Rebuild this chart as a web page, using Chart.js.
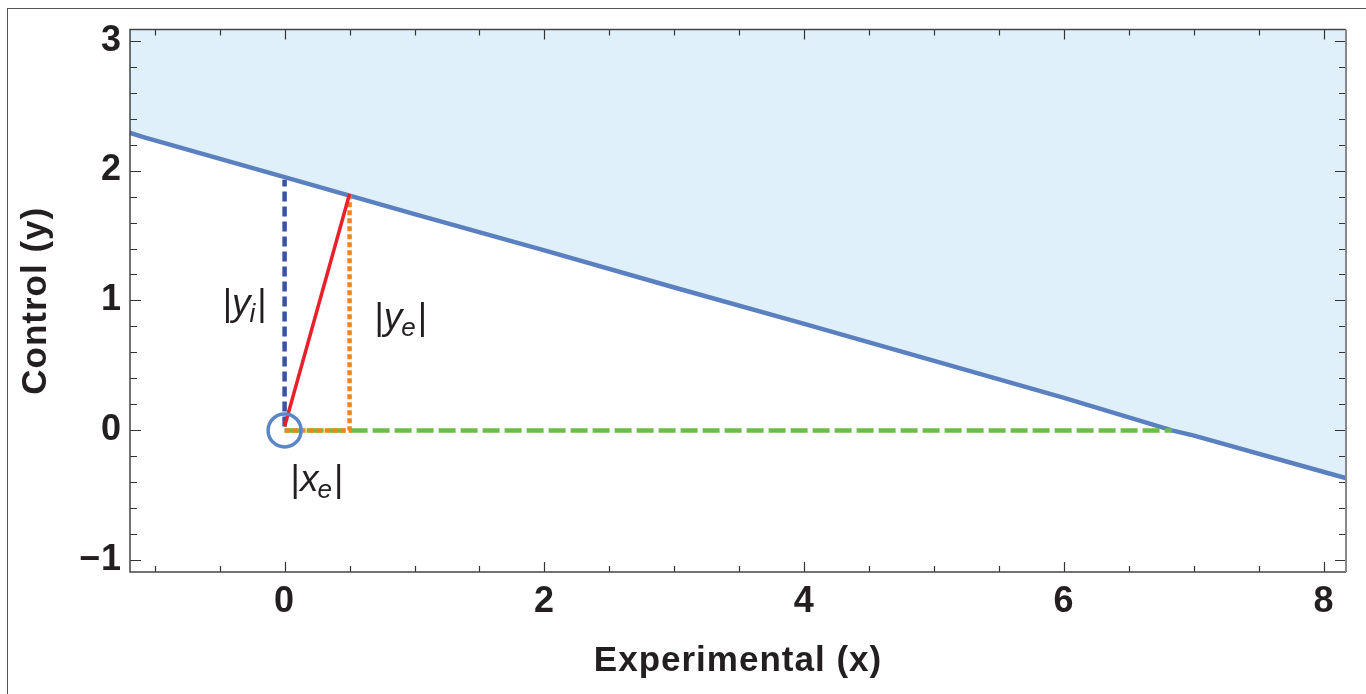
<!DOCTYPE html>
<html><head><meta charset="utf-8">
<script src="https://cdn.jsdelivr.net/npm/chart.js@4/dist/chart.umd.min.js"></script>
<style>
html,body{margin:0;padding:0;background:#fff;overflow:hidden}
#frame{position:absolute;left:7px;top:8px;width:1400px;height:720px;border-left:1.5px solid #555;border-top:1.5px solid #555;pointer-events:none}
#c{position:absolute;left:0;top:0}
</style></head><body>
<canvas id="c" width="1366" height="694"></canvas>
<div id="frame"></div>
<script>
// ---- data ----
const boundaryX = [-1.25, -1.08, 0, 1, 2, 3, 4, 5, 6, 6.83, 7, 8, 8.25];
const boundaryY = [2.31, 2.255, 1.95, 1.665, 1.385, 1.10, 0.82, 0.535, 0.25, 0.0, -0.04, -0.32, -0.39];
const yiX = [0, 0];        const yiY = [0.03, 1.93];     // |y_i| blue dashed
const yeX = [0, 0.5, 0.5]; const yeY = [0, 0, 1.81];     // |y_e| orange dotted
const xeX = [0, 6.83];     const xeY = [0, 0];           // |x_e| green dashed
const redX = [0, 0.5];     const redY = [0.03, 1.82];    // red segment
const originX = [0];       const originY = [0];
const xTickLabels = [0, 2, 4, 6, 8];
const yTickLabels = [-1, 0, 1, 2, 3];
const labelMain = ['y', 'y', 'x'];
const labelSub = ['i', 'e', 'e'];
const labelX = [-0.307, 0.894, 0.249];
const labelY = [0.962, 0.858, -0.392];

const FONT = "'Liberation Sans', Arial, Helvetica, sans-serif";
const TXT = '#231f20';
const pts = (xs, ys) => xs.map((v, i) => ({x: v, y: ys[i]}));
const fmt = v => v < 0 ? '\u2212' + Math.abs(v) : String(v);

const framePlugin = {
  id: 'framePlugin',
  beforeDraw(chart) { chart.ctx.letterSpacing = '1px'; },
  afterDatasetsDraw(chart) {
    const {ctx, chartArea: a, scales: {x, y}} = chart;
    ctx.save();
    ctx.letterSpacing = '0px';
    // inward ticks on all four sides
    ctx.strokeStyle = '#333'; ctx.lineWidth = 1.2;
    ctx.beginPath();
    for (let i = -2; i <= 16; i++) {
      const v = i * 0.5;
      const major = i % 4 === 0;
      const L = major ? 10 : 6;
      const px = Math.round(x.getPixelForValue(v)) + 0.5;
      ctx.moveTo(px, a.bottom); ctx.lineTo(px, a.bottom - L);
      ctx.moveTo(px, a.top); ctx.lineTo(px, a.top + L);
    }
    for (let i = -5; i <= 15; i++) {
      const v = i * 0.2;
      const major = i % 5 === 0;
      const L = major ? 11 : 7;
      const py = Math.round(y.getPixelForValue(v)) + 0.5;
      ctx.moveTo(a.left, py); ctx.lineTo(a.left + L, py);
      ctx.moveTo(a.right, py); ctx.lineTo(a.right - L, py);
    }
    ctx.stroke();
    // frame
    ctx.strokeStyle = '#444'; ctx.lineWidth = 1.5;
    ctx.beginPath();
    ctx.moveTo(a.right, a.top); ctx.lineTo(a.left, a.top); ctx.lineTo(a.left, a.bottom); ctx.lineTo(a.right, a.bottom);
    ctx.stroke();
    ctx.strokeStyle = '#888'; ctx.lineWidth = 2;
    ctx.beginPath(); ctx.moveTo(a.right, a.top); ctx.lineTo(a.right, a.bottom); ctx.stroke();
    // annotation labels |y_i|, |y_e|, |x_e|
    ctx.fillStyle = TXT;
    ctx.textBaseline = 'alphabetic';
    ctx.textAlign = 'left';
    const fBar = `36px ${FONT}`, fMain = `italic 37px ${FONT}`, fSub = `italic 26px ${FONT}`;
    for (let k = 0; k < labelMain.length; k++) {
      const cx = x.getPixelForValue(labelX[k]);
      const cy = y.getPixelForValue(labelY[k]);
      ctx.font = fBar; const wb = ctx.measureText('|').width;
      ctx.font = fMain; const wm = ctx.measureText(labelMain[k]).width;
      ctx.font = fSub; const ws = ctx.measureText(labelSub[k]).width;
      const total = wb * 2 + wm + ws + 1;
      let px = cx - total / 2;
      const base = cy + 10;
      ctx.font = fBar; ctx.fillText('|', px, base); px += wb;
      ctx.font = fMain; ctx.fillText(labelMain[k], px, base); px += wm - 1;
      ctx.font = fSub; ctx.fillText(labelSub[k], px, base + 7); px += ws + 2;
      ctx.font = fBar; ctx.fillText('|', px, base);
    }
    ctx.restore();
  },
  afterDraw(chart) { chart.ctx.letterSpacing = '0px'; }
};

new Chart(document.getElementById('c'), {
  type: 'scatter',
  data: {
    datasets: [
      {data: pts(originX, originY), order: 0, pointRadius: 16.5, pointHoverRadius: 16.5,
       pointBorderWidth: 3.5, pointBorderColor: '#5b86c6', pointBackgroundColor: 'rgba(0,0,0,0)', showLine: false},
      {data: pts(redX, redY), order: 1, showLine: true, borderColor: '#e8202a', borderWidth: 3.5, pointRadius: 0},
      {data: pts(yiX, yiY), order: 2, showLine: true, borderColor: '#3a52a3', borderWidth: 4.5, borderDash: [10, 5], pointRadius: 0},
      {data: pts(yeX, yeY), order: 3, showLine: true, borderColor: '#f58220', borderWidth: 4.5, borderDash: [5, 3], pointRadius: 0},
      {data: pts(xeX, xeY), order: 4, showLine: true, borderColor: '#6abd45', borderWidth: 4.5, borderDash: [17, 5], pointRadius: 0},
      {data: pts(boundaryX, boundaryY), order: 5, showLine: true, borderColor: '#5b80c0', borderWidth: 4.5,
       pointRadius: 0, fill: 'end', backgroundColor: '#dff0fa', tension: 0}
    ]
  },
  options: {
    responsive: false, animation: false, devicePixelRatio: 1,
    layout: {padding: {left: 0, top: 29, right: 16, bottom: 0}},
    plugins: {legend: {display: false}, tooltip: {enabled: false}},
    scales: {
      x: {
        type: 'linear', min: -1.19, max: 8.17,
        grid: {display: false, drawTicks: false}, border: {display: false},
        ticks: {stepSize: 2, includeBounds: false, autoSkip: false, maxRotation: 0, padding: 8,
                color: TXT, font: {family: FONT, size: 36, weight: 'bold'},
                callback: v => xTickLabels.includes(v) ? fmt(v) : ''},
        title: {display: true, text: 'Experimental (x)', color: TXT,
                font: {family: FONT, size: 35, weight: 'bold'}, padding: {top: 0, bottom: 12}},
        afterFit: s => { s.height = 122; }
      },
      y: {
        type: 'linear', min: -1.09, max: 3.085,
        grid: {display: false, drawTicks: false}, border: {display: false},
        ticks: {stepSize: 1, includeBounds: false, autoSkip: false, padding: 8,
                color: TXT, font: {family: FONT, size: 36, weight: 'bold'},
                callback: v => yTickLabels.includes(v) ? fmt(v) : ''},
        title: {display: true, text: 'Control (y)', color: TXT,
                font: {family: FONT, size: 35, weight: 'bold'}, padding: {top: 15, bottom: 0}},
        afterFit: s => { s.width = 130; }
      }
    }
  },
  plugins: [framePlugin]
});
</script>
</body></html>
